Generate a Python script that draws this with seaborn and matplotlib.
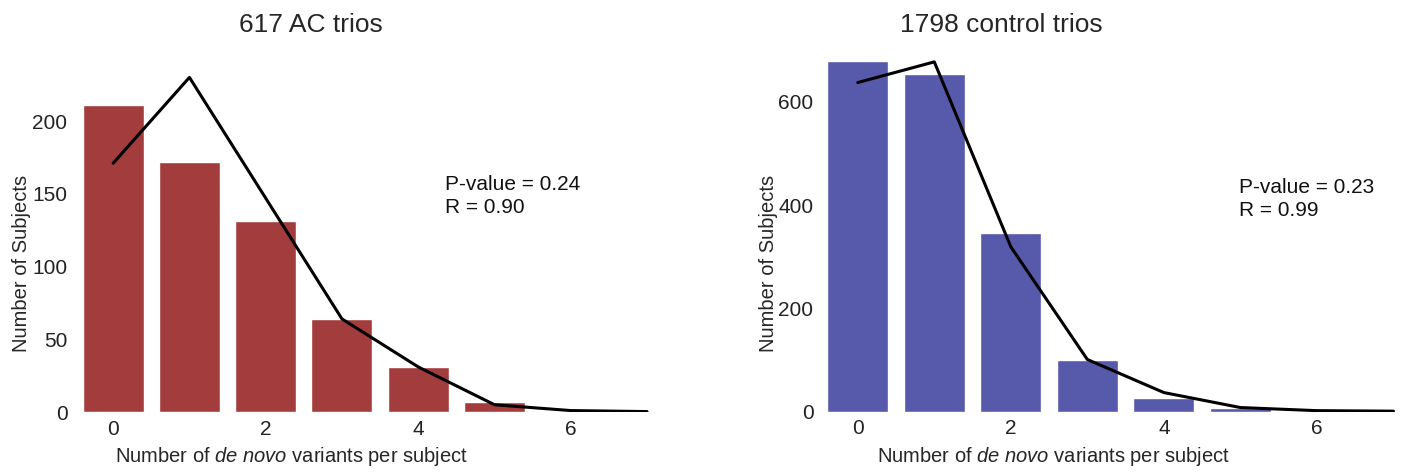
import matplotlib
matplotlib.use("Agg")
import matplotlib.pyplot as plt
import seaborn as sns
import pandas as pd

# number of de novo variants per subject
n_variants = [0, 1, 2, 3, 4, 5, 6, 7]

ac_observed = [211, 172, 131, 64, 31, 7, 1, 0.5]
ac_expected = [171, 230, 147, 64, 31, 5, 1, 0.3]

ctrl_observed = [679, 653, 345, 100, 27, 8, 2, 1]
ctrl_expected = [637, 677, 319, 101, 37, 8, 2, 1]

x_ticks = [0, 2, 4, 6]
ac_yticks = [0, 50, 100, 150, 200]
ctrl_yticks = [0, 200, 400, 600]

sns.set_style("white")
plt.rcParams["font.family"] = ["Liberation Sans", "DejaVu Sans"]
plt.rcParams["mathtext.fontset"] = "custom"
plt.rcParams["mathtext.rm"] = "Liberation Sans"
plt.rcParams["mathtext.it"] = "Liberation Sans:italic"


def draw_panel(ax, observed, expected, color, title, yticks, ylim, xlim,
               stats, stats_xy, title_x, title_pad, xlab_x, ylab_x, ylab_y):
    df = pd.DataFrame({"n": n_variants, "obs": observed, "exp": expected})
    sns.barplot(data=df, x="n", y="obs", native_scale=True, width=0.8,
                color=color, saturation=1, ax=ax)
    sns.lineplot(data=df, x="n", y="exp", color="black", linewidth=2.2, ax=ax)
    ax.set_xlim(*xlim)
    ax.set_ylim(*ylim)
    ax.set_xticks(x_ticks)
    ax.set_yticks(yticks)
    ax.tick_params(axis="both", length=2.5, width=0.8, color="#555555",
                   labelsize=15, labelcolor="#222222", pad=3)
    for s in ax.spines.values():
        s.set_visible(False)
    ax.set_title(title, fontsize=19, x=title_x, pad=title_pad)
    ax.set_ylabel("Number of Subjects", fontsize=14.5)
    ax.set_xlabel(r"Number of $\it{de\ novo}$ variants per subject", fontsize=14.5)
    ax.xaxis.set_label_coords(xlab_x, -0.095)
    ax.yaxis.set_label_coords(ylab_x, ylab_y)
    ax.text(stats_xy[0], stats_xy[1], stats, fontsize=15, va="top", linespacing=1.3,
            color="#111111")


fig = plt.figure(figsize=(14.21, 4.75), dpi=100)
ax1 = fig.add_axes([0.0528, 0.1326, 0.4272, 0.7305])
ax2 = fig.add_axes([0.5778, 0.1333, 0.4222, 0.7446])

draw_panel(ax1, ac_observed, ac_expected, "#A33D3D", "617 AC trios",
           ac_yticks, (0, 238.5), (-0.5, 7.46),
           "P-value = 0.24\nR = 0.90", (4.35, 163),
           title_x=0.389, title_pad=24, xlab_x=0.357, ylab_x=-0.072, ylab_y=0.427)
draw_panel(ax2, ctrl_observed, ctrl_expected, "#5759AB", "1798 control trios",
           ctrl_yticks, (0, 684.5), (-0.48, 7.36),
           "P-value = 0.23\nR = 0.99", (4.98, 453),
           title_x=0.30, title_pad=19, xlab_x=0.388, ylab_x=-0.072, ylab_y=0.418)

fig.savefig("out.png", dpi=100)
